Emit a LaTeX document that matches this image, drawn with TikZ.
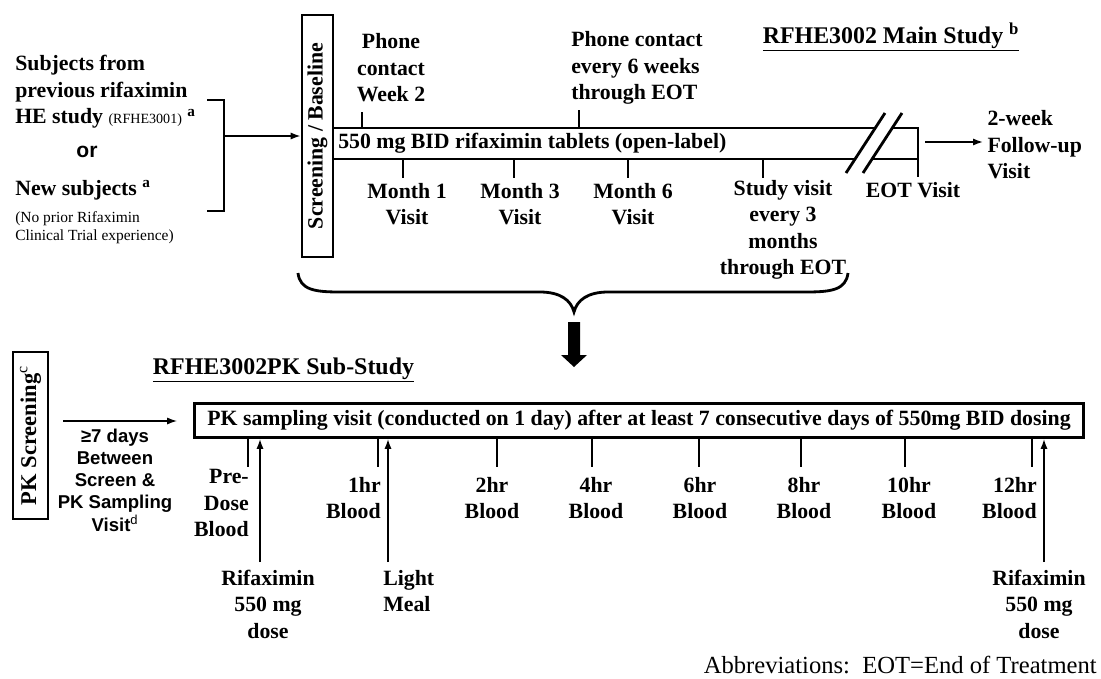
\documentclass[tikz,border=0pt]{standalone}
\usepackage{fontspec}
\setmainfont{Liberation Serif}
\newfontfamily\arialfont{Liberation Sans}
\usetikzlibrary{arrows.meta,positioning,calc}

\begin{document}
\begin{tikzpicture}[x=0.025cm,y=-0.025cm,
every node/.style={font=\bfseries\fontsize{15.5}{18.8}\selectfont,inner sep=0pt},
lab/.style={align=center},
head/.style={font=\bfseries\fontsize{17}{20}\selectfont},
rbox/.style={draw,line width=2pt,rotate=90,inner sep=0pt},
pkframe/.style={draw,line width=2pt,inner sep=0pt,minimum width=22.2cm,minimum height=0.85cm},
bar/.style={line width=2pt},
tick/.style={line width=1.5pt},
arr/.style={-{Latex[length=7pt,width=5pt]},line width=1.1pt},
note/.style={font=\fontsize{11}{13}\selectfont,align=left},
sans/.style={font=\arialfont\bfseries\fontsize{13.2}{15.8}\selectfont,align=center}
]
\useasboundingbox (0,0) rectangle (1101,679);

% main study
\node[anchor=west,align=left] (subj) at (15,92) {Subjects from\\previous rifaximin\\HE study {\fontsize{10}{11}\mdseries\selectfont (RFHE3001)} \textsuperscript{a}};
\node[sans,font=\arialfont\bfseries\fontsize{15}{17}\selectfont] (or) at (87,152) {or};
\node[anchor=west] (new) at (15,190) {New subjects \textsuperscript{a}};
\node[note,anchor=west] (prior) at (15,228) {(No prior Rifaximin\\Clinical Trial experience)};
\draw[bar] (207,100) -- (224,100) -- (224,211) -- (207,211);
\coordinate (brk) at (224,136);

\node[rbox,minimum width=6.05cm,minimum height=0.775cm] (screen) at (317.5,136) {Screening / Baseline};
\draw[arr] (brk) -- (screen.north);

\draw[bar] (screen.south |- 0,128) -- (875,128) (892,128) -- (918,128) -- (918,177);
\draw[bar] (screen.south |- 0,159) -- (855,159) (872,159) -- (918,159);
\draw[bar] (846,173) -- (885,113) (863,173) -- (902,113);
\node[anchor=west] (dose) at (338,143) {550 mg BID rifaximin tablets (open-label)};

\node[lab] (wk2) at (391,68) {Phone\\contact\\Week 2};
\node[anchor=west,align=left] (ph6) at (571,68) {Phone contact\\every 6 weeks\\through EOT};
\draw[tick] (362,128) -- (362,112);
\draw[tick] (579,128) -- (579,110);

\node[lab] (m1) at (407,204) {Month 1\\Visit};
\node[lab] (m3) at (520,204) {Month 3\\Visit};
\node[lab] (m6) at (633,204) {Month 6\\Visit};
\node[lab] (sv) at (783,230) {Study visit\\every 3\\months\\through EOT};
\node[lab] (eotv) at (913,190) {EOT Visit};
\draw[tick] (403,159) -- (403,178);
\draw[tick] (514,159) -- (514,178);
\draw[tick] (628,159) -- (628,178);
\draw[tick] (763,159) -- (763,178);

\node[anchor=west,align=left,inner sep=3pt] (fu) at (983,145) {2-week\\Follow-up\\Visit};
\coordinate (eotr) at (925,142);
\draw[arr] (eotr) -- (eotr -| fu.west);

\node[head] (main) at (891,37) {\underline{RFHE3002 Main Study \textsuperscript{b}}};

% brace and arrow
\draw[bar] (298,273) .. controls (300,290) and (315,292) .. (340,292) -- (540,292)
  .. controls (560,292) and (571,300) .. (574,312)
  .. controls (577,300) and (588,292) .. (608,292) -- (806,292)
  .. controls (831,292) and (846,290) .. (848,273);
\fill (568,322) -- (580,322) -- (580,355) -- (587,355) -- (574,367) -- (561,355) -- (568,355) -- cycle;

% PK sub-study
\node[rbox,minimum width=4.175cm,minimum height=0.875cm,font=\bfseries\fontsize{16}{19}\selectfont] (pkscr) at (30.5,435.5) {PK Screening\textsuperscript{\mdseries c}};
\node[head] (sub) at (283.5,370) {\underline{RFHE3002PK Sub-Study}};
\node[pkframe] (pk) at (639,420.5) {PK sampling visit (conducted on 1 day) after at least 7 consecutive days of 550mg BID dosing};
\coordinate (gl) at (63,421);
\coordinate (gr) at (177,421);
\draw[arr,line width=0.9pt] (gl) -- (gr);
\node[sans] (gap) at (115,480) {≥7 days\\Between\\Screen \&\\PK Sampling\\Visit\textsuperscript{\mdseries d}};

\node[anchor=east,align=right] (pre) at (249,503) {Pre-\\Dose\\Blood};
\node[anchor=east,align=right] (h1) at (381,498) {1hr\\Blood};
\node[lab] (h2) at (492,498) {2hr\\Blood};
\node[lab] (h4) at (596,498) {4hr\\Blood};
\node[lab] (h6) at (700,498) {6hr\\Blood};
\node[lab] (h8) at (804,498) {8hr\\Blood};
\node[lab] (h10) at (909,498) {10hr\\Blood};
\node[anchor=east,align=right] (h12) at (1037,498) {12hr\\Blood};
\foreach \t in {248,378,497,592,699,801,905,1032}
  \draw[tick] (\t,0 |- pk.south) -- (\t,467);

\node[lab] (rif1) at (268,604) {Rifaximin\\550 mg\\dose};
\node[anchor=west,align=left] (meal) at (383,591) {Light\\Meal};
\node[lab] (rif2) at (1039,604) {Rifaximin\\550 mg\\dose};
\draw[arr] (260,562) -- (260,0 |- pk.south);
\draw[arr] (388,562) -- (388,0 |- pk.south);
\draw[arr] (1044,562) -- (1044,0 |- pk.south);

\node[anchor=east,font=\fontsize{17.5}{20}\selectfont] (abbr) at (1097,665) {Abbreviations:\ \ EOT=End of Treatment};
\end{tikzpicture}
\end{document}
